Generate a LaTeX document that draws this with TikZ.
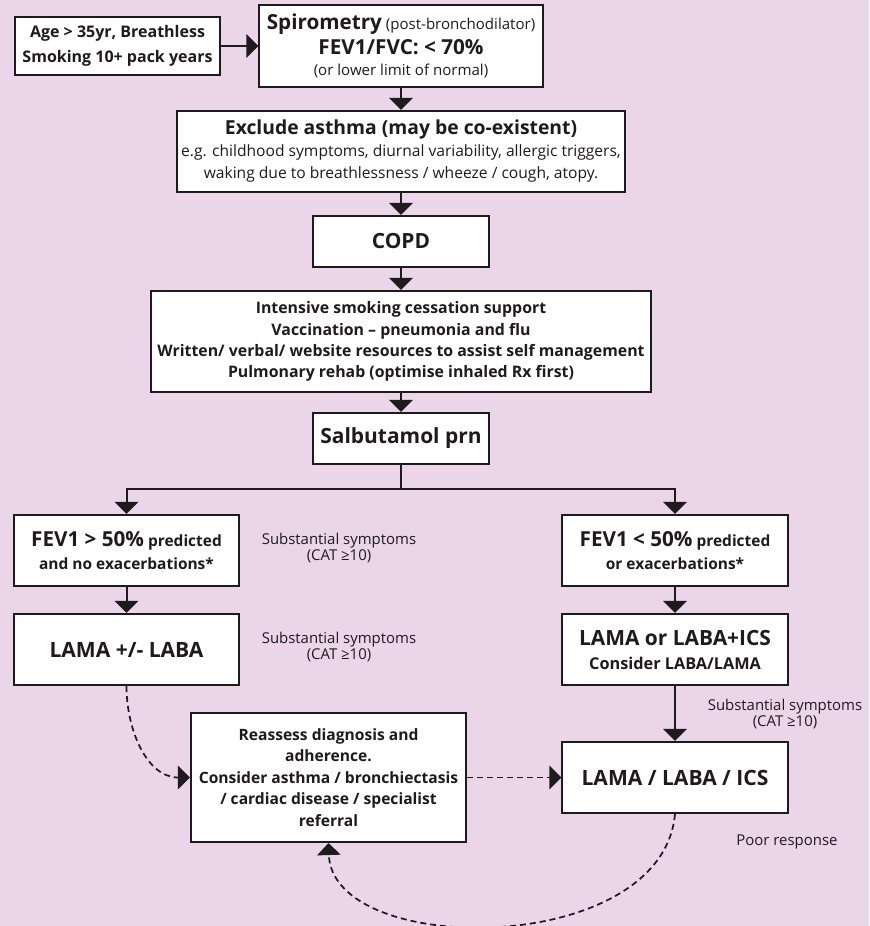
\documentclass[tikz,border=0pt]{standalone}
\usepackage{fontspec}
\setmainfont{Open Sans}
\usetikzlibrary{arrows.meta}

\definecolor{bgpink}{RGB}{235,213,232}
\definecolor{inkgrey}{RGB}{30,27,28}

\tikzset{
  box/.style={draw=inkgrey, fill=white, line width=1.5pt, inner sep=0pt, align=center, text=inkgrey},
  flow/.style={draw=inkgrey, line width=1.5pt},
  dashflow/.style={draw=inkgrey, line width=1.3pt, dash pattern=on 4.5pt off 3pt},
  note/.style={align=center, text=inkgrey, font=\fontsize{11.2}{12}\selectfont},
}

\begin{document}
\begin{tikzpicture}[x=0.75pt, y=-0.75pt, >={Triangle[width=17.5pt,length=9pt]}]
    \fill[bgpink] (0,0) rectangle (869,926);
    \useasboundingbox (0,0) rectangle (869,926);

    % top row
    \node[box, minimum width=153.8pt, minimum height=43.5pt, font=\bfseries\fontsize{12}{18.5}\selectfont] (age) at (117.5,46)
        {Age > 35yr, Breathless\\Smoking 10+ pack years};
    \node[box, minimum width=212.3pt, minimum height=61.5pt, font=\fontsize{11.3}{16.5}\selectfont] (spiro) at (401,46)
        {{\bfseries\fontsize{15.5}{18}\selectfont Spirometry} (post-bronchodilator)\\[2pt]
         {\bfseries\fontsize{15.5}{18}\selectfont FEV1/FVC: < 70\%}\\(or lower limit of normal)};

    % main column
    \node[box, minimum width=336pt, minimum height=60.8pt, font=\fontsize{11.7}{16.5}\selectfont] (excl) at (401,151.5)
        {{\bfseries\fontsize{14.5}{17}\selectfont Exclude asthma (may be co-existent)}\\
         e.g. childhood symptoms, diurnal variability, allergic triggers,\\
         waking due to breathlessness / wheeze / cough, atopy.};
    \node[box, minimum width=131.3pt, minimum height=38.3pt, font=\bfseries\fontsize{15.7}{18}\selectfont] (copd) at (401,241.5) {COPD};
    \node[box, minimum width=374.3pt, minimum height=75.8pt, font=\bfseries\fontsize{11.9}{15.9}\selectfont] (intens) at (401,341.5)
        {Intensive smoking cessation support\\
         Vaccination -- pneumonia and flu\\
         Written/ verbal/ website resources to assist self management\\
         Pulmonary rehab (optimise inhaled Rx first)};
    \node[box, minimum width=131.3pt, minimum height=38.3pt, font=\bfseries\fontsize{15.7}{18}\selectfont] (salb) at (401,438.5) {Salbutamol prn};

    % two branches
    \node[box, minimum width=168.8pt, minimum height=53.3pt, font=\bfseries\fontsize{11.6}{17.5}\selectfont] (fevhi) at (126.5,550.5)
        {{\fontsize{15.5}{17.5}\selectfont FEV1 > 50\%} predicted\\and no exacerbations*};
    \node[box, minimum width=168.8pt, minimum height=53.3pt, font=\bfseries\fontsize{15.8}{18}\selectfont] (lamalaba) at (126.5,649.5)
        {LAMA +/- LABA};
    \node[box, minimum width=168.8pt, minimum height=53.3pt, font=\bfseries\fontsize{11.6}{17.5}\selectfont] (fevlo) at (675,550.5)
        {{\fontsize{15.5}{17.5}\selectfont FEV1 < 50\%} predicted\\or exacerbations*};
    \node[box, minimum width=168.8pt, minimum height=53.3pt, font=\bfseries\fontsize{12.2}{18}\selectfont] (lamaics) at (675,649.5)
        {{\fontsize{15.7}{18}\selectfont LAMA or LABA+ICS}\\Consider LABA/LAMA};

    % bottom row
    \node[box, minimum width=206.3pt, minimum height=96.8pt, font=\bfseries\fontsize{11.7}{16.1}\selectfont] (reassess) at (328.5,777.5)
        {Reassess diagnosis and\\adherence.\\Consider asthma / bronchiectasis\\/ cardiac disease / specialist\\referral};
    \node[box, minimum width=168.8pt, minimum height=53.3pt, font=\bfseries\fontsize{15.8}{18}\selectfont] (triple) at (675,777.5)
        {LAMA / LABA / ICS};

    % side notes
    \node[note] (symhi) at (339,548) {Substantial symptoms\\(CAT ≥10)};
    \node[note] (symmid) at (339,647) {Substantial symptoms\\(CAT ≥10)};
    \node[note] (symlo) at (785,714) {Substantial symptoms\\(CAT ≥10)};
    \node[note] (poor) at (787,842) {Poor response};

    % solid connectors
    \draw[flow, ->] (age) -- (spiro);
    \draw[flow, ->] (spiro) -- (excl);
    \draw[flow, ->] (excl) -- (copd);
    \draw[flow, ->] (copd) -- (intens);
    \draw[flow, ->] (intens) -- (salb);
    \draw[flow, ->] (salb.south) -- ++(0,24) -| (fevhi.north);
    \draw[flow, ->] (salb.south) -- ++(0,24) -| (fevlo.north);
    \draw[flow, ->] (fevhi) -- (lamalaba);
    \draw[flow, ->] (fevlo) -- (lamaics);
    \draw[flow, ->] (lamaics) -- (triple);

    % dashed connectors
    \draw[dashflow, ->] (lamalaba.south) to[out=-90, in=180] (reassess.west);
    \draw[dashflow, ->] (reassess.east) -- (triple.west);
    \draw[dashflow, ->] (triple.south) .. controls (662,958) and (332,958) .. (reassess.south);
\end{tikzpicture}
\end{document}
